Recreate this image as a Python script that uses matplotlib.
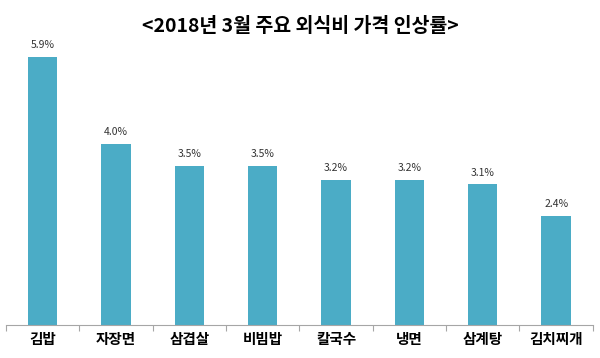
import matplotlib
matplotlib.use("Agg")
import matplotlib.pyplot as plt
import numpy as np

plt.rcParams['font.family'] = ['Noto Sans CJK KR', 'DejaVu Sans']

# 데이터
categories = ['김밥', '자장면', '삼겹살', '비빔밥', '칼국수', '냉면', '삼계탕', '김치찌개']
values = [5.9, 4.0, 3.5, 3.5, 3.2, 3.2, 3.1, 2.4]
value_labels = ['5.9%', '4.0%', '3.5%', '3.5%', '3.2%', '3.2%', '3.1%', '2.4%']

fig = plt.figure(figsize=(6, 3.58), dpi=100)
ax = fig.add_axes([0.01, 0.092, 0.978, 0.824])

x = np.arange(len(categories))
ax.bar(x, values, width=0.4, color='#4BACC6')

for xi, v, lab in zip(x, values, value_labels):
    ax.text(xi, v + 0.15, lab, ha='center', va='bottom', fontsize=7.5, color='#333333')

ax.set_xlim(-0.5, len(categories) - 0.5)
ax.set_ylim(0, 6.5)

for s in ['top', 'right', 'left']:
    ax.spines[s].set_visible(False)
ax.spines['bottom'].set_color('#a6a6a6')
ax.spines['bottom'].set_linewidth(0.8)

ax.set_yticks([])
ax.set_xticks(np.arange(len(categories) + 1) - 0.5, minor=True)
ax.set_xticks(x)
ax.set_xticklabels(categories, fontsize=10.5, fontweight='bold')
ax.tick_params(axis='x', which='major', length=0, pad=4)
ax.tick_params(axis='x', which='minor', length=4, color='#a6a6a6', width=0.8)

fig.text(0.5, 0.925, '<2018년 3월 주요 외식비 가격 인상률>', ha='center', va='center',
         fontsize=14, fontweight='bold')

fig.savefig('out.png', dpi=100)
